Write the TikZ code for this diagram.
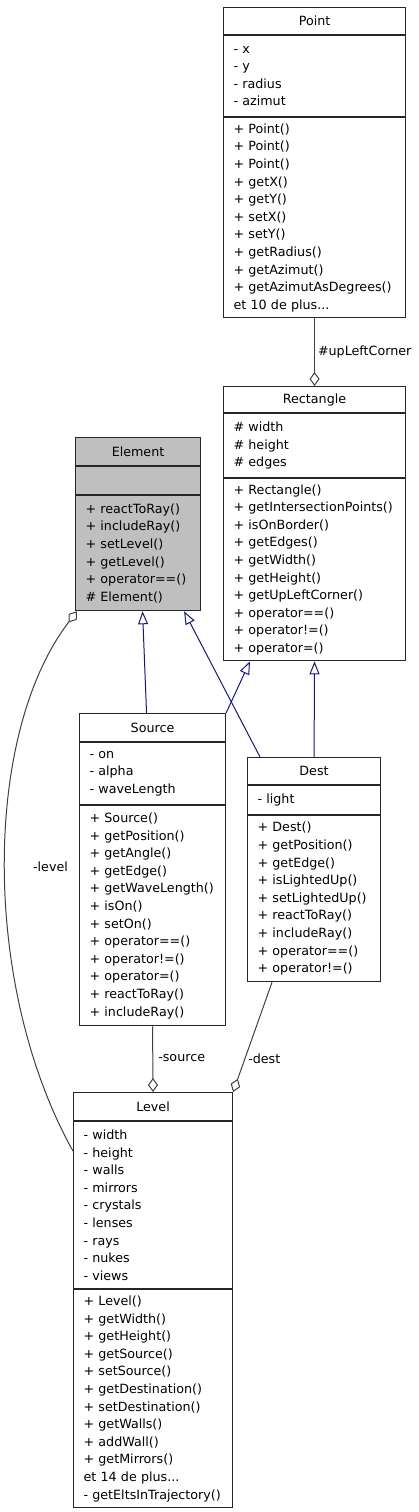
\documentclass[tikz,border=0pt]{standalone}
\usepackage{fontspec}
\setmainfont{DejaVu Sans}
\usetikzlibrary{positioning,arrows.meta}
\definecolor{inhblue}{HTML}{191970}
\definecolor{aggrgray}{HTML}{404040}
\definecolor{elemgray}{HTML}{BFBFBF}
\newcommand{\umlfont}{\fontsize{12.7pt}{17.6pt}\selectfont}

\begin{document}
\begin{tikzpicture}[x=1pt,y=1pt,
  classtitle/.style={draw=black!85, line width=1.1pt, fill=white, font=\umlfont, anchor=north west, inner sep=0pt},
  classpart/.style={draw=black!85, line width=1.1pt, fill=white, font=\umlfont, align=left, inner xsep=10pt, inner ysep=0pt},
  inherit/.style={draw=inhblue, line width=1pt, -{Triangle[open,length=13pt,width=10pt]}},
  aggreg/.style={draw=aggrgray, line width=1pt, -{Diamond[open,length=14pt,width=10pt]}},
  rolelabel/.style={font=\umlfont, text=black}]
\useasboundingbox (0,0) rectangle (418,-1512);

% Point
\node[classtitle, minimum width=182, minimum height=27] (pointT) at (223,-7) {Point};
\node[classpart, below=0pt of pointT, text width=162, minimum height=81] (pointA) {- x\\- y\\- radius\\- azimut};
\node[classpart, below=0pt of pointA, text width=162, minimum height=200] (pointM) {+ Point()\\+ Point()\\+ Point()\\+ getX()\\+ getY()\\+ setX()\\+ setY()\\+ getRadius()\\+ getAzimut()\\+ getAzimutAsDegrees()\\et 10 de plus...};

% Rectangle
\node[classtitle, minimum width=182, minimum height=26] (rectT) at (223,-386) {Rectangle};
\node[classpart, below=0pt of rectT, text width=162, minimum height=64] (rectA) {\# width\\\# height\\\# edges};
\node[classpart, below=0pt of rectA, text width=162, minimum height=182] (rectM) {+ Rectangle()\\+ getIntersectionPoints()\\+ isOnBorder()\\+ getEdges()\\+ getWidth()\\+ getHeight()\\+ getUpLeftCorner()\\+ operator==()\\+ operator!=()\\+ operator=()};

% Element
\node[classtitle, fill=elemgray, minimum width=125, minimum height=28] (elemT) at (75,-437) {Element};
\node[classpart, fill=elemgray, below=0pt of elemT, text width=105, minimum height=28] (elemA) {};
\node[classpart, fill=elemgray, below=0pt of elemA, text width=105, minimum height=115] (elemM) {+ reactToRay()\\+ includeRay()\\+ setLevel()\\+ getLevel()\\+ operator==()\\\# Element()};

% Source
\node[classtitle, minimum width=146, minimum height=28] (srcT) at (79,-713) {Source};
\node[classpart, below=0pt of srcT, text width=126, minimum height=62] (srcA) {- on\\- alpha\\- waveLength};
\node[classpart, below=0pt of srcA, text width=126, minimum height=220] (srcM) {+ Source()\\+ getPosition()\\+ getAngle()\\+ getEdge()\\+ getWaveLength()\\+ isOn()\\+ setOn()\\+ operator==()\\+ operator!=()\\+ operator=()\\+ reactToRay()\\+ includeRay()};

% Dest
\node[classtitle, minimum width=133, minimum height=27] (dstT) at (247,-757) {Dest};
\node[classpart, below=0pt of dstT, text width=113, minimum height=29] (dstA) {- light};
\node[classpart, below=0pt of dstA, text width=113, minimum height=166] (dstM) {+ Dest()\\+ getPosition()\\+ getEdge()\\+ isLightedUp()\\+ setLightedUp()\\+ reactToRay()\\+ includeRay()\\+ operator==()\\+ operator!=()};

% Level
\node[classtitle, minimum width=159, minimum height=28] (lvlT) at (73,-1092) {Level};
\node[classpart, below=0pt of lvlT, text width=139, minimum height=167] (lvlA) {- width\\- height\\- walls\\- mirrors\\- crystals\\- lenses\\- rays\\- nukes\\- views};
\node[classpart, below=0pt of lvlA, text width=139, minimum height=218] (lvlM) {+ Level()\\+ getWidth()\\+ getHeight()\\+ getSource()\\+ setSource()\\+ getDestination()\\+ setDestination()\\+ getWalls()\\+ addWall()\\+ getMirrors()\\et 14 de plus...\\-~getEltsInTrajectory()};

% inheritance
\draw[inherit] ([xshift=-6pt]srcT.north) -- ([xshift=4.5pt]elemM.south);
\draw[inherit] ([xshift=13pt]dstT.north west) -- ([xshift=-17pt]elemM.south east);
\draw[inherit] (srcT.north east) -- ([xshift=27pt]rectM.south west);
\draw[inherit] (dstT.north) -- (rectM.south);

% aggregation
\draw[aggreg] (pointM.south) -- (rectT.north) node[midway, right, inner sep=3pt, rolelabel] {\#upLeftCorner};
\draw[aggreg] (srcM.south) -- (lvlT.north) node[pos=0.49, right, inner sep=5pt, rolelabel] {-source};
\draw[aggreg] ([xshift=25pt]dstM.south west) -- (lvlT.north east) node[pos=0.7, right, inner sep=3pt, rolelabel] {-dest};
\draw[aggreg] ([yshift=-30pt]lvlA.north west) .. controls (-18,-988) and (-18,-735) .. ([xshift=2pt]elemM.south west) node[pos=0.5, right=24pt, rolelabel] {-level};
\end{tikzpicture}
\end{document}
